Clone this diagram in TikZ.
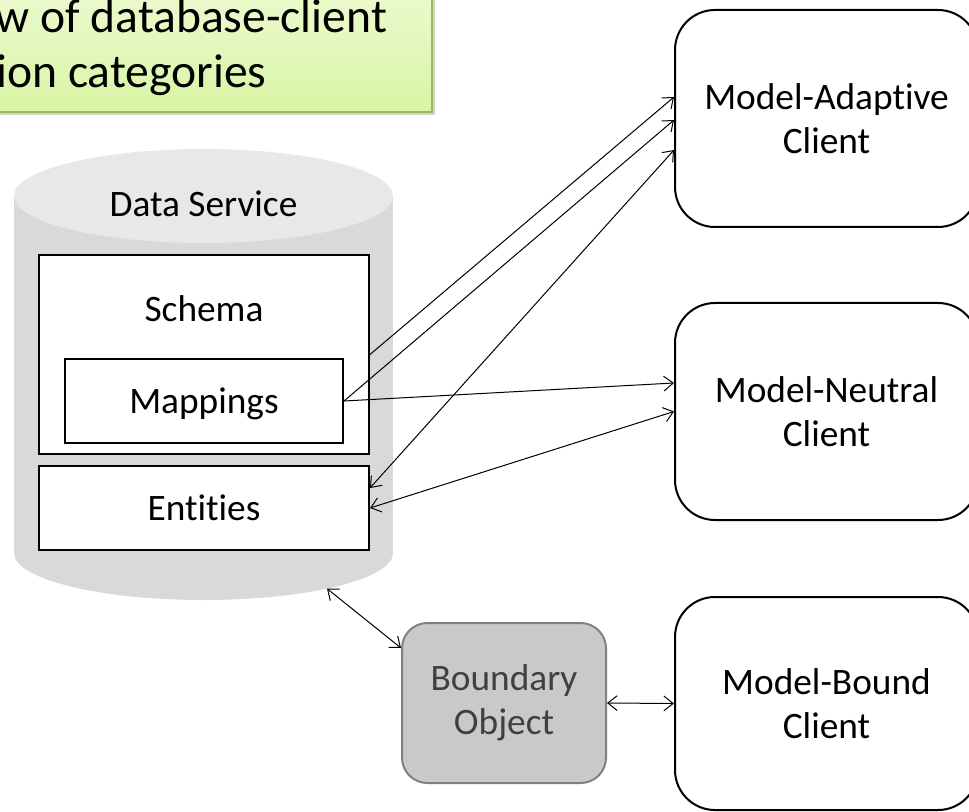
\documentclass[tikz,border=0pt]{standalone}
\usepackage{fontspec}
\setmainfont{Carlito}[Ligatures=NoCommon]
\usetikzlibrary{arrows.meta,shadows,calc}
\definecolor{cylbody}{HTML}{D9D9D9}
\definecolor{cyltop}{HTML}{E8E8E8}
\definecolor{bofill}{HTML}{C9C9C9}
\definecolor{bodraw}{HTML}{808080}
\definecolor{botext}{HTML}{404040}
\definecolor{calloutdraw}{HTML}{9BBB59}
\definecolor{callouttop}{HTML}{F2FCDC}
\definecolor{calloutbot}{HTML}{D8F5A5}
\begin{document}
\begin{tikzpicture}[x=0.75pt,y=-0.75pt,
  lbl/.style={font=\fontsize{28pt}{33pt}\selectfont, align=center},
  titletext/.style={font=\fontsize{35.7pt}{42pt}\selectfont, inner sep=0pt, anchor=base west},
  box/.style={draw=black, line width=1.5pt, fill=white, inner sep=0pt},
  client/.style={draw=black, line width=1.5pt, fill=white, rounded corners=30pt,
    minimum width=303*0.75pt, lbl},
  bobox/.style={draw=bodraw, line width=1.5pt, fill=bofill, rounded corners=19pt,
    minimum width=204*0.75pt, minimum height=160*0.75pt, lbl, text=botext},
  callout/.style={draw=calloutdraw, line width=1.5pt, top color=callouttop, bottom color=calloutbot,
    drop shadow={shadow xshift=2.5pt, shadow yshift=-2.5pt, opacity=0.35}},
  tip/.tip={Straight Barb[length=7pt,width=11pt]},
  conn/.style={line width=0.75pt, -tip},
  dconn/.style={line width=0.75pt, tip-tip}
]
\useasboundingbox (0,0) rectangle (969,812);
\clip (0,0) rectangle (969,812);

% callout
\node[callout, anchor=south east, minimum width=633*0.75pt, minimum height=163*0.75pt] (callout) at (433,113) {};
\node[titletext] (title1) at (-154,33) {Overview of database-client};
\node[titletext] (title2) at (-153,88) {interaction categories};

% cylinder
\fill[cylbody] (14,196) rectangle (393,553);
\fill[cylbody] (203.5,553) ellipse [x radius=189.5, y radius=47];
\fill[cyltop] (203.5,196) ellipse [x radius=189.5, y radius=47];
\coordinate (cylbot) at (327,588.6);
\node[lbl, anchor=base] (dslabel) at (203.5,217) {Data Service};

% inner boxes
\node[box, minimum width=330*0.75pt, minimum height=199*0.75pt] (schema) at (204,354.5) {};
\node[lbl, anchor=base] (schemalabel) at (204,322) {Schema};
\node[box, lbl, minimum width=278*0.75pt, minimum height=84*0.75pt, text height=18pt, text depth=0pt] (mappings) at (204,401) {Mappings};
\node[box, lbl, minimum width=330*0.75pt, minimum height=84*0.75pt, text height=18pt, text depth=0pt] (entities) at (204,508) {Entities};

% clients
\node[client, minimum height=217*0.75pt] (adaptive) at (826.5,118.5) {Model-Adaptive\\Client};
\node[client, minimum height=217*0.75pt] (neutral) at (826.5,411.5) {Model-Neutral\\Client};
\node[client, minimum height=213*0.75pt] (bound) at (826.5,703.5) {Model-Bound\\Client};

% boundary object
\node[bobox] (boundary) at (504,703) {Boundary\\Object};

% connectors
\draw[conn] (schema.east) -- ($(adaptive.west)+(0,-21.5)$);
\draw[conn] (mappings.east) -- ($(adaptive.west)+(0,1.5)$);
\draw[conn] (mappings.east) -- ($(neutral.west)+(0,-28.5)$);
\draw[dconn] ($(adaptive.west)+(0,31.5)$) -- ($(entities.east)+(0,-20)$);
\draw[dconn] (neutral.west) -- (entities.east);
\draw[dconn] (cylbot) -- ($(boundary.west)+(0,-55)$);
\draw[dconn] (boundary.east) -- (bound.west);
\end{tikzpicture}
\end{document}
